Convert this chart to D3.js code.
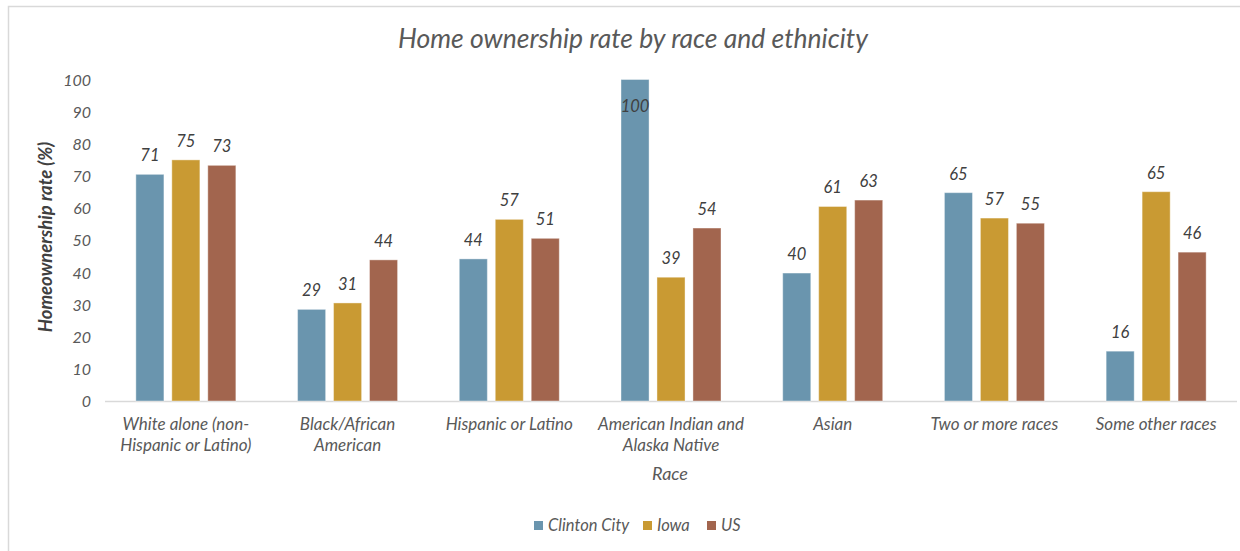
<!DOCTYPE html>
<html><head><meta charset="utf-8">
<script src="https://cdn.jsdelivr.net/npm/d3@7"></script>
<style>
body{margin:0;background:#fff;}
text{font-family:Lato,"Open Sans",sans-serif;font-style:italic;}
</style></head>
<body><svg id="c" width="1240" height="551"></svg>
<script>
const categories = [["White alone (non-","Hispanic or Latino)"],["Black/African","American"],["Hispanic or Latino"],["American Indian and","Alaska Native"],["Asian"],["Two or more races"],["Some other races"]];
const seriesNames = ["Clinton City","Iowa","US"];
const clinton = [70.5,28.5,44.2,100,39.8,64.8,15.5];
const iowa = [75,30.5,56.5,38.5,60.5,56.9,65.1];
const us = [73.3,43.9,50.6,53.8,62.5,55.3,46.3];
const yTicks = [0,10,20,30,40,50,60,70,80,90,100];
const colors = ["#6a95ae","#c99a33","#a2654e"];

const svg = d3.select("#c");
// frame
svg.append("path").attr("d","M8.5,551 V6.5 H1240").attr("fill","none").attr("stroke","#d9d9d9").attr("stroke-width",1.5);

const pLeft=105,pRight=1237,pTop=79.5,pBottom=401;
const x0 = d3.scaleBand().domain(d3.range(categories.length)).range([pLeft,pRight]).paddingInner(0).paddingOuter(0);
const x1 = d3.scaleBand().domain(d3.range(3)).range([0,100]).paddingInner(0.22).paddingOuter(0);
const y = d3.scaleLinear().domain([0,100]).range([pBottom,pTop]);
const series=[clinton,iowa,us];
const gx = x0.bandwidth();
const off = (gx-100)/2;

// title
svg.append("text").attr("x",633).attr("y",48).attr("text-anchor","middle").attr("font-size",26.5).attr("fill","#595959").text("Home ownership rate by race and ethnicity");

// y axis
const ya = svg.append("g").attr("transform",`translate(${pLeft-14},0)`).call(d3.axisLeft(y).tickValues(yTicks).tickSize(0).tickPadding(0));
ya.select(".domain").remove();
ya.selectAll("text").attr("font-size",16).attr("fill","#595959").attr("font-family","Lato").attr("font-style","italic").attr("dy","0.35em");

// baseline
svg.append("line").attr("x1",pLeft).attr("x2",pRight).attr("y1",pBottom+0.5).attr("y2",pBottom+0.5).attr("stroke","#d9d9d9").attr("stroke-width",1.5);

// bars
series.forEach((s,si)=>{
  svg.append("g").selectAll("rect").data(s).join("rect")
   .attr("x",(d,i)=>x0(i)+off+x1(si)).attr("width",x1.bandwidth())
   .attr("y",d=>y(d)).attr("height",d=>pBottom-y(d))
   .attr("fill",colors[si]).attr("stroke","#fff").attr("stroke-opacity",0.4).attr("stroke-width",1);
  svg.append("g").selectAll("text").data(s).join("text")
   .attr("x",(d,i)=>x0(i)+off+x1(si)+x1.bandwidth()/2)
   .attr("y",d=> d>=100 ? y(d)+32 : y(d)-13)
   .attr("text-anchor","middle").attr("font-size",16.5).attr("fill","#404040").text(d=>Math.round(d));
});

// x labels
categories.forEach((lines,i)=>{
  const t = svg.append("text").attr("x",x0(i)+gx/2).attr("y",430).attr("text-anchor","middle").attr("font-size",17).attr("fill","#595959");
  lines.forEach((l,j)=>t.append("tspan").attr("x",x0(i)+gx/2).attr("dy",j?21:0).text(l));
});

// axis titles
svg.append("text").attr("x",670).attr("y",480).attr("text-anchor","middle").attr("font-size",18).attr("fill","#595959").text("Race");
svg.append("text").attr("transform","translate(52,237) rotate(-90)").attr("text-anchor","middle").attr("font-size",18.5).attr("font-weight","bold").attr("fill","#404040").text("Homeownership rate (%)");

// legend
const lx=[534,643,707];
seriesNames.forEach((n,i)=>{
  svg.append("rect").attr("x",lx[i]).attr("y",521).attr("width",9).attr("height",9).attr("fill",colors[i]);
  svg.append("text").attr("x",lx[i]+14).attr("y",531).attr("font-size",16.5).attr("fill","#595959").text(n);
});
</script></body></html>
